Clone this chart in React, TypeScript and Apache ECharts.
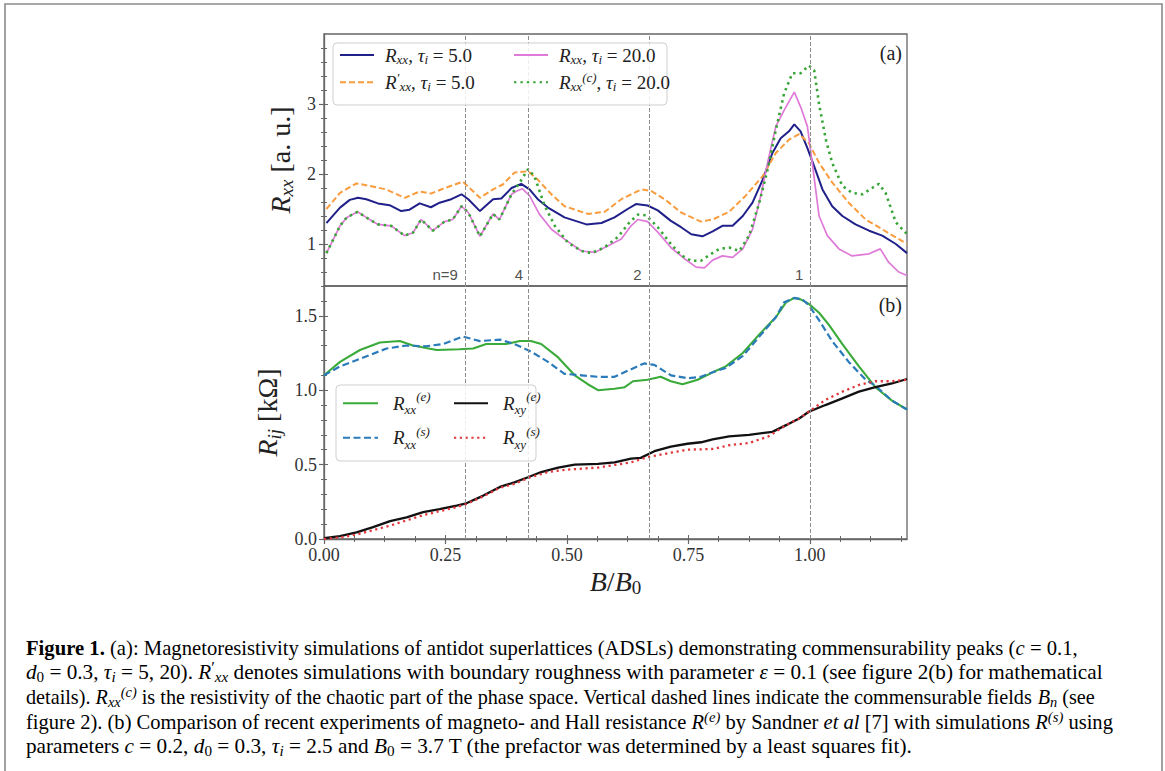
import React, { useEffect, useRef } from 'react';
import * as echarts from 'echarts';

// ---------------- Panel (a): simulations ----------------
const rxx5X = [0.005, 0.009, 0.033, 0.053, 0.070, 0.087, 0.111, 0.135, 0.159, 0.176, 0.197, 0.220, 0.238, 0.262, 0.283, 0.297, 0.321, 0.348, 0.365, 0.386, 0.406, 0.423, 0.440, 0.461, 0.495, 0.540, 0.571, 0.598, 0.625, 0.642, 0.666, 0.687, 0.714, 0.735, 0.756, 0.779, 0.800, 0.820, 0.841, 0.862, 0.882, 0.903, 0.923, 0.940, 0.957, 0.968, 0.981, 0.995, 1.009, 1.026, 1.046, 1.067, 1.094, 1.122, 1.149, 1.177, 1.2];
const rxx5Y = [1.30, 1.33, 1.52, 1.63, 1.66, 1.64, 1.58, 1.555, 1.47, 1.49, 1.58, 1.525, 1.59, 1.64, 1.71, 1.64, 1.47, 1.64, 1.65, 1.80, 1.86, 1.78, 1.64, 1.52, 1.38, 1.28, 1.30, 1.38, 1.50, 1.57, 1.55, 1.48, 1.33, 1.24, 1.14, 1.11, 1.18, 1.26, 1.26, 1.40, 1.59, 1.92, 2.30, 2.51, 2.61, 2.71, 2.61, 2.37, 2.11, 1.78, 1.54, 1.40, 1.28, 1.19, 1.12, 1.00, 0.87];

const rpxx5X = [0.005, 0.033, 0.067, 0.094, 0.128, 0.166, 0.197, 0.220, 0.245, 0.286, 0.321, 0.348, 0.368, 0.392, 0.420, 0.440, 0.468, 0.495, 0.543, 0.578, 0.612, 0.653, 0.673, 0.701, 0.735, 0.776, 0.800, 0.834, 0.868, 0.903, 0.930, 0.957, 0.978, 0.998, 1.019, 1.046, 1.080, 1.115, 1.149, 1.2];
const rpxx5Y = [1.50, 1.73, 1.865, 1.83, 1.78, 1.66, 1.75, 1.72, 1.79, 1.89, 1.66, 1.78, 1.85, 2.02, 2.04, 1.92, 1.71, 1.54, 1.43, 1.46, 1.64, 1.78, 1.76, 1.64, 1.45, 1.32, 1.35, 1.46, 1.69, 1.97, 2.30, 2.49, 2.57, 2.44, 2.16, 1.88, 1.59, 1.35, 1.21, 1.00];

const rxx20X = [0.005, 0.033, 0.047, 0.069, 0.087, 0.111, 0.138, 0.166, 0.183, 0.200, 0.224, 0.248, 0.265, 0.283, 0.297, 0.321, 0.348, 0.361, 0.386, 0.395, 0.408, 0.423, 0.443, 0.468, 0.495, 0.530, 0.557, 0.584, 0.612, 0.632, 0.646, 0.666, 0.687, 0.714, 0.742, 0.766, 0.783, 0.800, 0.820, 0.841, 0.862, 0.882, 0.899, 0.913, 0.930, 0.947, 0.968, 0.981, 0.995, 1.005, 1.019, 1.036, 1.060, 1.087, 1.122, 1.145, 1.162, 1.183, 1.2];
const rxx20Y = [0.87, 1.26, 1.38, 1.46, 1.38, 1.28, 1.26, 1.12, 1.16, 1.35, 1.19, 1.32, 1.35, 1.54, 1.45, 1.11, 1.43, 1.35, 1.71, 1.75, 1.79, 1.69, 1.43, 1.21, 1.07, 0.90, 0.88, 0.97, 1.07, 1.26, 1.35, 1.32, 1.17, 0.95, 0.79, 0.67, 0.66, 0.77, 0.83, 0.81, 0.93, 1.21, 1.69, 2.16, 2.68, 2.91, 3.17, 2.96, 2.68, 2.16, 1.40, 1.12, 0.93, 0.83, 0.86, 0.93, 0.74, 0.60, 0.55];

const rcxx20X = [0.005, 0.033, 0.047, 0.069, 0.087, 0.111, 0.138, 0.166, 0.183, 0.200, 0.224, 0.248, 0.265, 0.283, 0.297, 0.321, 0.348, 0.361, 0.386, 0.403, 0.420, 0.433, 0.454, 0.475, 0.502, 0.530, 0.550, 0.577, 0.605, 0.629, 0.646, 0.663, 0.687, 0.714, 0.735, 0.756, 0.776, 0.797, 0.814, 0.834, 0.855, 0.875, 0.896, 0.913, 0.930, 0.947, 0.964, 0.981, 0.998, 1.009, 1.019, 1.033, 1.046, 1.067, 1.087, 1.108, 1.128, 1.142, 1.156, 1.177, 1.2];
const rcxx20Y = [0.87, 1.26, 1.38, 1.46, 1.38, 1.28, 1.26, 1.12, 1.16, 1.35, 1.19, 1.32, 1.35, 1.54, 1.45, 1.11, 1.43, 1.35, 1.71, 1.88, 2.07, 1.97, 1.55, 1.26, 1.02, 0.90, 0.87, 0.95, 1.10, 1.31, 1.42, 1.41, 1.24, 1.00, 0.84, 0.76, 0.76, 0.86, 0.93, 0.95, 0.90, 1.12, 1.59, 2.06, 2.63, 3.15, 3.44, 3.44, 3.55, 3.48, 3.00, 2.49, 2.16, 1.83, 1.73, 1.71, 1.80, 1.86, 1.73, 1.31, 1.14];

// commensurable fields B_n / B_0 and their labels
const commensurableB = [0.289, 0.423, 0.667, 1.0];
const commensurableLabels = ['n=9', '4', '2', '1'];
const commensurableLabelLevel = 0.57;

// ---------------- Panel (b): experiment vs simulation ----------------
const rxxEX = [0, 0.033, 0.074, 0.115, 0.156, 0.183, 0.232, 0.279, 0.307, 0.334, 0.375, 0.403, 0.426, 0.447, 0.482, 0.516, 0.543, 0.564, 0.598, 0.619, 0.636, 0.666, 0.693, 0.714, 0.738, 0.769, 0.800, 0.827, 0.862, 0.896, 0.930, 0.951, 0.968, 0.981, 0.998, 1.019, 1.039, 1.067, 1.101, 1.135, 1.169, 1.2];
const rxxEY = [1.10, 1.19, 1.27, 1.32, 1.33, 1.30, 1.27, 1.275, 1.28, 1.31, 1.31, 1.33, 1.33, 1.31, 1.22, 1.10, 1.04, 1.00, 1.01, 1.02, 1.06, 1.07, 1.09, 1.06, 1.04, 1.07, 1.12, 1.16, 1.25, 1.375, 1.49, 1.59, 1.62, 1.61, 1.58, 1.52, 1.44, 1.31, 1.16, 1.02, 0.93, 0.87];

const rxxSX = [0, 0.033, 0.081, 0.129, 0.17, 0.21, 0.245, 0.286, 0.321, 0.362, 0.392, 0.426, 0.461, 0.495, 0.530, 0.564, 0.598, 0.625, 0.659, 0.680, 0.714, 0.748, 0.776, 0.800, 0.827, 0.862, 0.896, 0.930, 0.947, 0.968, 0.985, 0.998, 1.019, 1.046, 1.080, 1.115, 1.135, 1.169, 1.2];
const rxxSY = [1.10, 1.16, 1.22, 1.28, 1.30, 1.295, 1.31, 1.36, 1.33, 1.34, 1.31, 1.26, 1.19, 1.11, 1.10, 1.09, 1.09, 1.13, 1.18, 1.17, 1.10, 1.08, 1.09, 1.12, 1.15, 1.23, 1.36, 1.49, 1.59, 1.62, 1.61, 1.57, 1.47, 1.33, 1.19, 1.07, 1.03, 0.93, 0.87];

const rxyEX = [0, 0.033, 0.067, 0.101, 0.136, 0.170, 0.204, 0.238, 0.273, 0.293, 0.327, 0.362, 0.392, 0.420, 0.447, 0.482, 0.516, 0.564, 0.598, 0.632, 0.652, 0.680, 0.714, 0.748, 0.776, 0.800, 0.834, 0.875, 0.923, 0.951, 0.978, 0.998, 1.032, 1.067, 1.101, 1.135, 1.169, 1.2];
const rxyEY = [0.005, 0.02, 0.045, 0.08, 0.12, 0.145, 0.18, 0.20, 0.225, 0.24, 0.29, 0.35, 0.38, 0.415, 0.45, 0.48, 0.50, 0.505, 0.515, 0.54, 0.545, 0.59, 0.62, 0.64, 0.65, 0.67, 0.69, 0.70, 0.72, 0.765, 0.81, 0.855, 0.90, 0.945, 0.99, 1.02, 1.045, 1.075];

const rxySX = [0, 0.033, 0.067, 0.136, 0.204, 0.273, 0.293, 0.327, 0.362, 0.392, 0.420, 0.461, 0.495, 0.564, 0.632, 0.666, 0.714, 0.748, 0.800, 0.834, 0.875, 0.915, 0.951, 0.978, 1.0, 1.032, 1.067, 1.101, 1.135, 1.169, 1.2];
const rxySY = [0.0, 0.01, 0.03, 0.09, 0.16, 0.215, 0.235, 0.285, 0.345, 0.37, 0.41, 0.45, 0.465, 0.48, 0.515, 0.55, 0.58, 0.60, 0.605, 0.63, 0.645, 0.69, 0.765, 0.81, 0.86, 0.935, 0.99, 1.035, 1.06, 1.06, 1.07];

// ---------------- ticks ----------------
const xMajorTicks = [0, 0.25, 0.5, 0.75, 1.0];
const topYMajorTicks = [1, 2, 3];
const bottomYMajorTicks = [0, 0.5, 1.0, 1.5];

// ---------------- caption ----------------
type Tok = [string, string];
const captionLines: Tok[][] = [
  [['b', 'Figure 1.'], ['n', ' (a): Magnetoresistivity simulations of antidot superlattices (ADSLs) demonstrating commensurability peaks ('], ['i', 'c'], ['n', ' = 0.1,']],
  [['i', 'd'], ['subn', '0'], ['n', ' = 0.3, '], ['i', 'τ'], ['sub', 'i'], ['n', ' = 5, 20). '], ['i', 'R'], ['sup', '′'], ['sub', 'xx'], ['n', ' denotes simulations with boundary roughness with parameter '], ['i', 'ε'], ['n', ' = 0.1 (see figure '], ['link', '2'], ['n', '(b) for mathematical']],
  [['n', 'details). '], ['i', 'R'], ['sub', 'xx'], ['supi', '(c)'], ['n', ' is the resistivity of the chaotic part of the phase space. Vertical dashed lines indicate the commensurable fields '], ['i', 'B'], ['sub', 'n'], ['n', ' (see']],
  [['n', 'figure '], ['link', '2'], ['n', '). (b) Comparison of recent experiments of magneto- and Hall resistance '], ['i', 'R'], ['supi', '(e)'], ['n', ' by Sandner '], ['i', 'et al'], ['n', ' ['], ['link', '7'], ['n', '] with simulations '], ['i', 'R'], ['supi', '(s)'], ['n', ' using']],
  [['n', 'parameters '], ['i', 'c'], ['n', ' = 0.2, '], ['i', 'd'], ['subn', '0'], ['n', ' = 0.3, '], ['i', 'τ'], ['sub', 'i'], ['n', ' = 2.5 and '], ['i', 'B'], ['subn', '0'], ['n', ' = 3.7 T (the prefactor was determined by a least squares fit).']],
];
const captionRight = [1078, 1103, 1095, 1113, 913];

const SERIF = "'Liberation Serif', 'Times New Roman', serif";
const AX = '#666';

function pairs(xs: number[], ys: number[]) {
  return xs.map((x, i) => [x, ys[i]]);
}

function range(start: number, stop: number, step: number, skip: number[]) {
  const out: number[] = [];
  const n = Math.round((stop - start) / step);
  for (let k = 0; k <= n; k++) {
    const v = Math.round((start + k * step) * 10000) / 10000;
    if (!skip.some((s) => Math.abs(s - v) < 1e-6)) out.push(v);
  }
  return out;
}

function tickAxes(dim: 'x' | 'y', gridIndex: number, min: number, max: number, majors: number[], minors: number[], extra: any) {
  const base: any = {
    type: 'value', gridIndex, min, max,
    position: dim === 'x' ? 'bottom' : 'left',
    splitLine: { show: false },
  };
  const main = {
    ...base,
    axisLine: { show: true, lineStyle: { color: AX, width: 1.3 } },
    axisTick: { show: true, customValues: majors, length: 5, inside: false, lineStyle: { color: AX, width: 1.2 } },
    ...extra,
  };
  const mk = (vals: number[], inside: boolean, len: number) => ({
    ...base,
    axisLine: { show: false },
    axisLabel: { show: false },
    axisTick: { show: true, customValues: vals, inside, length: len, lineStyle: { color: AX, width: 1 } },
  });
  return [main, mk(minors, false, 3), mk(majors, true, 4), mk(minors, true, 3)];
}

const tickLabel = { fontFamily: SERIF, fontSize: 18, color: '#333' };

const nameRich = {
  i: { fontFamily: SERIF, fontStyle: 'italic', fontSize: 28, lineHeight: 32, color: '#222' },
  n: { fontFamily: SERIF, fontSize: 28, lineHeight: 32, color: '#222' },
  sub: { fontFamily: SERIF, fontStyle: 'italic', fontSize: 19, lineHeight: 18, verticalAlign: 'bottom', color: '#222' },
  subn: { fontFamily: SERIF, fontSize: 19, lineHeight: 18, verticalAlign: 'bottom', color: '#222' },
};

const legendRichTop = {
  sp: { width: 6 },
  i: { fontFamily: SERIF, fontStyle: 'italic', fontSize: 19, lineHeight: 22, color: '#222' },
  n: { fontFamily: SERIF, fontSize: 19, lineHeight: 22, color: '#222' },
  sub: { fontFamily: SERIF, fontStyle: 'italic', fontSize: 13, lineHeight: 11, verticalAlign: 'bottom', color: '#222' },
  sup: { fontFamily: SERIF, fontStyle: 'italic', fontSize: 13, lineHeight: 11, verticalAlign: 'top', color: '#222' },
};
const legendRichBottom = {
  sp: { width: 10 },
  i: { fontFamily: SERIF, fontStyle: 'italic', fontSize: 19, lineHeight: 26, color: '#222' },
  sub: { fontFamily: SERIF, fontStyle: 'italic', fontSize: 13, lineHeight: 11, verticalAlign: 'bottom', color: '#222' },
  sup: { fontFamily: SERIF, fontStyle: 'italic', fontSize: 13, lineHeight: 12, verticalAlign: 'top', color: '#222' },
};

const legendText: Record<string, string> = {
  rxx5: '{sp| }{i|R}{sub|xx}{n|, }{i|τ}{sub|i}{n| = 5.0}',
  rpxx5: '{sp| }{i|R}{sup|′}{sub|xx}{n|, }{i|τ}{sub|i}{n| = 5.0}',
  rxx20: '{sp| }{i|R}{sub|xx}{n|, }{i|τ}{sub|i}{n| = 20.0}',
  rcxx20: '{sp| }{i|R}{sub|xx}{sup|(c)}{n|, }{i|τ}{sub|i}{n| = 20.0}',
  rxxE: '{sp| }{i|R}{sub|xx}{sup|(e)}',
  rxxS: '{sp| }{i|R}{sub|xx}{sup|(s)}',
  rxyE: '{sp| }{i|R}{sub|xy}{sup|(e)}',
  rxyS: '{sp| }{i|R}{sub|xy}{sup|(s)}',
};

const CAP = 21;
const capStyles: Record<string, any> = {
  n: { fontFamily: SERIF, fontSize: CAP, lineHeight: 25, color: '#1a1a1a' },
  b: { fontFamily: SERIF, fontSize: CAP, fontWeight: 'bold', lineHeight: 25, color: '#1a1a1a' },
  i: { fontFamily: SERIF, fontSize: CAP, fontStyle: 'italic', lineHeight: 25, color: '#1a1a1a' },
  link: { fontFamily: SERIF, fontSize: CAP, lineHeight: 25, color: '#1a8fd0' },
  sub: { fontFamily: SERIF, fontSize: 15, fontStyle: 'italic', lineHeight: 14, verticalAlign: 'bottom', color: '#1a1a1a' },
  subn: { fontFamily: SERIF, fontSize: 15, lineHeight: 14, verticalAlign: 'bottom', color: '#1a1a1a' },
  sup: { fontFamily: SERIF, fontSize: 16, lineHeight: 14, verticalAlign: 'top', color: '#1a1a1a' },
  supi: { fontFamily: SERIF, fontSize: 15, fontStyle: 'italic', lineHeight: 14, verticalAlign: 'top', color: '#1a1a1a' },
};

function fontOf(s: any) {
  return `${s.fontStyle || 'normal'} ${s.fontWeight || 'normal'} ${s.fontSize}px ${s.fontFamily}`;
}

export default function App() {
  const ref = useRef<HTMLDivElement>(null);
  useEffect(() => {
    if (!ref.current) return;
    const chart = echarts.init(ref.current, undefined, { renderer: 'svg' });

    const canvas = document.createElement('canvas');
    const ctx = canvas.getContext('2d')!;
    const captionLeft = 26;
    const captionY = [648, 672.5, 697, 721.5, 746];
    const captionEls = captionLines.map((line, li) => {
      let w = 0;
      line.forEach(([s, t]) => {
        ctx.font = fontOf(capStyles[s]);
        w += ctx.measureText(t).width;
      });
      const scale = (captionRight[li] - captionLeft) / w;
      return {
        type: 'text', x: captionLeft, y: captionY[li], scaleX: scale, silent: true,
        style: {
          x: 0, y: 0, align: 'left', verticalAlign: 'middle',
          text: line.map(([s, t]) => `{${s}|${t}}`).join(''),
          rich: capStyles,
        },
      };
    });

    const xMinor = range(0, 1.1875, 0.0625, xMajorTicks);
    const topYMinor = range(0.4, 3.8, 0.2, topYMajorTicks);
    const botYMinor = range(0, 1.7, 0.1, bottomYMajorTicks);

    const topY = tickAxes('y', 0, 0.4, 4.0, topYMajorTicks, topYMinor, {
      axisLabel: { show: true, customValues: topYMajorTicks, formatter: (v: number) => String(v), margin: 8, ...tickLabel },
      name: '{i|R}{sub|xx}{n| [a. u.]}', nameLocation: 'middle', nameGap: 20, nameTextStyle: { rich: nameRich },
    });
    const botY = tickAxes('y', 1, 0, 1.7, bottomYMajorTicks, botYMinor, {
      axisLabel: { show: true, customValues: bottomYMajorTicks, formatter: (v: number) => v.toFixed(1), margin: 7, ...tickLabel },
      name: '{i|R}{sub|ij}{n| [kΩ]}', nameLocation: 'middle', nameGap: 40, nameTextStyle: { rich: nameRich },
    });
    const botX = tickAxes('x', 1, 0, 1.2, xMajorTicks, xMinor, {
      axisLabel: { show: true, customValues: xMajorTicks, formatter: (v: number) => v.toFixed(2), margin: 7, ...tickLabel },
      name: '{i|B}{n|/}{i|B}{subn|0}', nameLocation: 'middle', nameGap: 26, nameTextStyle: { rich: nameRich },
    });

    const vlines = {
      silent: true, symbol: ['none', 'none'], label: { show: false },
      lineStyle: { color: '#8c8c8c', type: [4, 2], width: 1 },
      emphasis: { disabled: true },
      data: commensurableB.map((v) => ({ xAxis: v })),
    };

    const line = (name: string, xs: number[], ys: number[], color: string, width: number, type: any, xi: number, yi: number, extra: any = {}) => ({
      name, type: 'line', xAxisIndex: xi, yAxisIndex: yi, data: pairs(xs, ys),
      symbol: 'none', showSymbol: false, animation: false, clip: true,
      itemStyle: { color },
      lineStyle: { color, width, type },
      emphasis: { disabled: true },
      ...extra,
    });

    const legendBase = {
      orient: 'vertical', padding: 0, itemHeight: 14, selectedMode: false,
      formatter: (n: string) => legendText[n],
      itemStyle: { opacity: 0 },
      z: 10,
    };

    const option: any = {
      animation: false,
      backgroundColor: '#fff',
      grid: [
        { left: 324, top: 34, width: 583, height: 252, show: true, borderColor: AX, borderWidth: 1.3, backgroundColor: 'transparent' },
        { left: 324, top: 286, width: 583, height: 253, show: true, borderColor: AX, borderWidth: 1.3, backgroundColor: 'transparent' },
      ],
      xAxis: [
        { type: 'value', gridIndex: 0, min: 0, max: 1.2, show: false },
        ...botX,
      ],
      yAxis: [...topY, ...botY],
      legend: [
        { ...legendBase, data: ['rxx5', 'rpxx5'], left: 339, top: 45.5, itemWidth: 34, itemGap: 5.3, textStyle: { rich: legendRichTop } },
        { ...legendBase, data: ['rxx20', 'rcxx20'], left: 513, top: 45.5, itemWidth: 34, itemGap: 5.3, textStyle: { rich: legendRichTop } },
        { ...legendBase, data: ['rxxE', 'rxxS'], left: 342, top: 390.3, itemWidth: 35, itemGap: 8.4, textStyle: { rich: legendRichBottom } },
        { ...legendBase, data: ['rxyE', 'rxyS'], left: 453, top: 390.3, itemWidth: 34, itemGap: 8.4, textStyle: { rich: legendRichBottom } },
      ],
      series: [
        line('rxx5', rxx5X, rxx5Y, '#20208a', 2, 'solid', 0, 0, { markLine: vlines }),
        line('rpxx5', rpxx5X, rpxx5Y, '#f99c3e', 2, [6, 3], 0, 0),
        line('rxx20', rxx20X, rxx20Y, '#e07ad8', 1.7, 'solid', 0, 0),
        line('rcxx20', rcxx20X, rcxx20Y, '#36a536', 2.6, [2.4, 4], 0, 0),
        {
          type: 'scatter', xAxisIndex: 0, yAxisIndex: 0, symbolSize: 1, silent: true,
          itemStyle: { color: 'rgba(0,0,0,0)' },
          data: commensurableB.map((v, k) => ({ value: [v, commensurableLabelLevel], name: commensurableLabels[k] })),
          label: { show: true, position: 'left', distance: 6, formatter: '{b}', fontFamily: "'Liberation Sans', 'DejaVu Sans', sans-serif", fontSize: 15, color: '#222' },
        },
        line('rxxE', rxxEX, rxxEY, '#3aab3a', 2.1, 'solid', 1, 4, { markLine: vlines }),
        line('rxxS', rxxSX, rxxSY, '#2b7bba', 2.2, [7, 3.5], 1, 4),
        line('rxyE', rxyEX, rxyEY, '#111111', 2.3, 'solid', 1, 4),
        line('rxyS', rxySX, rxySY, '#e0353a', 2.3, [2.2, 3.6], 1, 4),
      ],
      graphic: [
        { type: 'rect', silent: true, z: -1, shape: { x: 5, y: 4, width: 1157, height: 800 }, style: { fill: 'none', stroke: '#8a8a8a', lineWidth: 1.6 } },
        { type: 'rect', silent: true, z: 9, shape: { x: 333, y: 43, width: 334, height: 62, r: 4 }, style: { fill: 'rgba(255,255,255,0.85)', stroke: '#cfcfcf', lineWidth: 1 } },
        { type: 'rect', silent: true, z: 9, shape: { x: 336, y: 385, width: 200, height: 76, r: 4 }, style: { fill: 'rgba(255,255,255,0.85)', stroke: '#cfcfcf', lineWidth: 1 } },
        { type: 'text', silent: true, z: 10, x: 902, y: 53, style: { text: '(a)', align: 'right', verticalAlign: 'middle', fontFamily: SERIF, fontSize: 20, fill: '#222' } },
        { type: 'text', silent: true, z: 10, x: 902, y: 305, style: { text: '(b)', align: 'right', verticalAlign: 'middle', fontFamily: SERIF, fontSize: 20, fill: '#222' } },
        ...captionEls,
      ],
    };
    chart.setOption(option);
    return () => chart.dispose();
  }, []);
  return <div ref={ref} style={{ position: 'fixed', left: 0, top: 0, width: 1165, height: 771, background: '#fff' }} />;
}
